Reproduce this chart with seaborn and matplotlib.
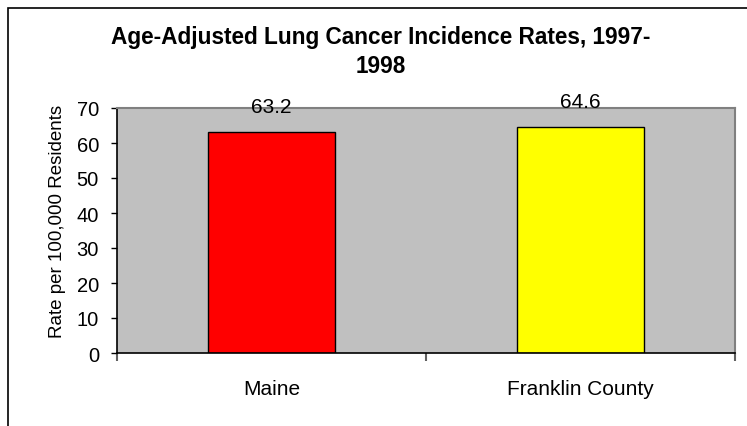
import matplotlib
matplotlib.use("Agg")
import matplotlib.pyplot as plt
import seaborn as sns
import pandas as pd
from matplotlib.patches import Rectangle

categories = ["Maine", "Franklin County"]
values = [63.2, 64.6]
bar_colors = ["#FF0000", "#FFFF00"]
value_labels = ["63.2", "64.6"]
yticks = [0, 10, 20, 30, 40, 50, 60, 70]
title_lines = ["Age-Adjusted Lung Cancer Incidence Rates, 1997-", "1998"]
ylabel = "Rate per 100,000 Residents"

sns.set_style("white")
plt.rcParams["font.family"] = ["Liberation Sans", "DejaVu Sans"]
plt.rcParams["text.color"] = "black"
plt.rcParams["axes.labelcolor"] = "black"
plt.rcParams["xtick.color"] = "black"
plt.rcParams["ytick.color"] = "black"

df = pd.DataFrame({"cat": categories, "val": values})

fig = plt.figure(figsize=(7.47, 4.27), dpi=100)
ax = fig.add_axes([117 / 747, 1 - 354 / 427, (735 - 117) / 747, (354 - 109) / 427])
ax.set_facecolor("#C0C0C0")

sns.barplot(data=df, x="cat", y="val", hue="cat", palette=bar_colors,
            saturation=1, width=0.41, edgecolor="black", linewidth=1.0,
            legend=False, ax=ax)

ax.set_ylim(0, 70)
ax.set_xlim(-0.5, 1.5)
ax.set_yticks(yticks)
ax.set_yticklabels([str(t) for t in yticks], fontsize=14.5)
ax.tick_params(axis="y", which="major", left=True, length=4, width=1,
               color="black", direction="out", pad=9)
ax.tick_params(axis="x", which="major", length=0, labelsize=15, pad=18.5)
ax.set_xticks([-0.5, 0.5, 1.5], minor=True)
ax.tick_params(axis="x", which="minor", bottom=True, length=6, width=1.5,
               color="#606060", direction="out")
ax.set_xlabel("")
ax.set_ylabel("")

for side in ["left", "bottom"]:
    ax.spines[side].set_color("black")
    ax.spines[side].set_linewidth(1.2)
for side in ["top", "right"]:
    ax.spines[side].set_color("#808080")
    ax.spines[side].set_linewidth(1.5)
    ax.spines[side].set_visible(True)

for i, (v, lab) in enumerate(zip(values, value_labels)):
    ax.annotate(lab, (i, v), xytext=(0, 14.4), textcoords="offset points",
                ha="center", va="baseline", fontsize=15, annotation_clip=False)

fig.text(57 / 747, 1 - 221 / 427, ylabel, rotation=90, ha="center", va="center",
         fontsize=13.5)

fig.text(381 / 747, 1 - 44 / 427, title_lines[0], ha="center", va="baseline",
         fontsize=16.3, fontweight="bold")
fig.text(381 / 747, 1 - 73 / 427, title_lines[1], ha="center", va="baseline",
         fontsize=16.3, fontweight="bold")

fig.patches.append(Rectangle((8 / 747, -0.1), 1.2, (1 - 9 / 427) + 0.1,
                             transform=fig.transFigure, fill=False,
                             edgecolor="black", linewidth=1.2, zorder=10))

fig.savefig("out.png", dpi=100)
